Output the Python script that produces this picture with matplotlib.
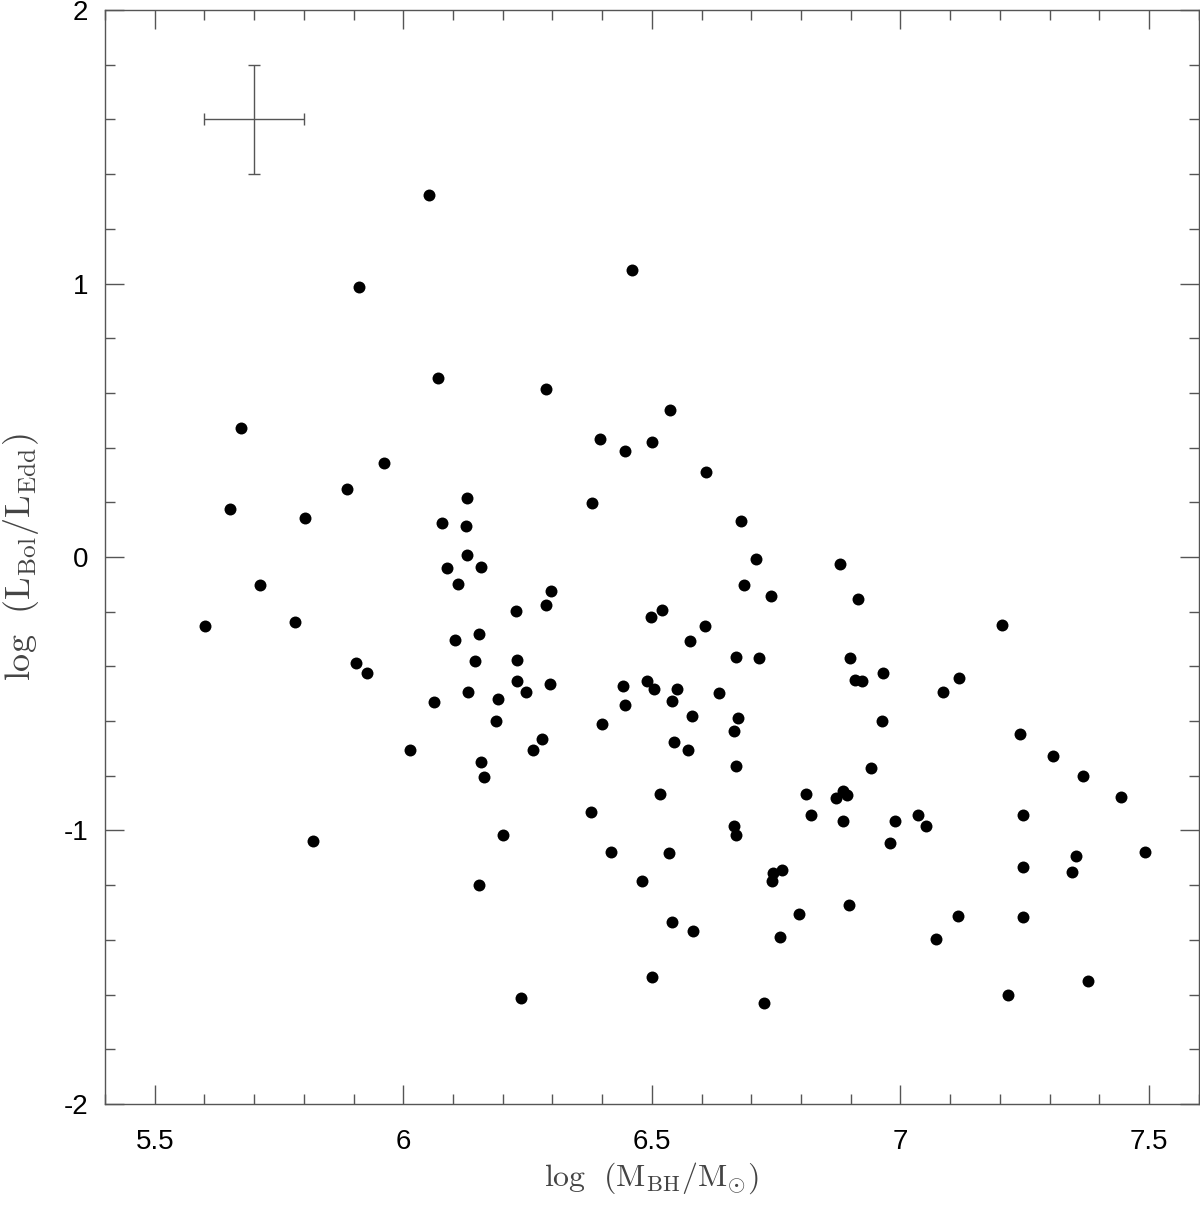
import matplotlib
matplotlib.use("Agg")
import matplotlib.pyplot as plt
from matplotlib.ticker import MultipleLocator, FixedLocator, FixedFormatter

plt.rcParams['font.family'] = ['Liberation Sans', 'DejaVu Sans']
plt.rcParams['mathtext.fontset'] = 'cm'
plt.rcParams['axes.unicode_minus'] = False

# log(M_BH/M_sun)
log_mbh = [
    5.601, 5.651, 5.673, 5.711, 5.783, 5.802, 5.818, 5.886, 5.904, 5.910,
    5.926, 5.962, 6.013, 6.051, 6.069, 6.286, 6.459, 6.537, 6.396, 6.445,
    6.501, 6.608, 6.680,
    6.129, 6.077, 6.127, 6.380, 6.129, 6.087, 6.157, 6.109, 6.298, 6.286,
    6.226, 6.521, 6.499, 6.577, 6.103, 6.153, 6.145, 6.228, 6.228, 6.296,
    6.131, 6.246, 6.441, 6.491, 6.505, 6.551, 6.541, 6.581, 6.061, 6.191,
    6.445, 6.187, 6.400, 6.278, 6.545, 6.573, 6.260,
    6.710, 6.879, 6.686, 6.740, 6.915, 7.205, 6.606, 6.670, 6.716, 6.899,
    6.965, 6.909, 6.923, 7.118, 7.086, 6.634, 6.674, 6.666, 6.963, 7.241,
    7.307,
    6.157, 6.163, 6.670, 6.517, 6.378, 6.200, 6.666, 6.670, 6.417, 6.535,
    6.762, 6.744, 6.742, 6.153, 6.481, 6.796, 6.541, 6.583, 6.758, 6.501,
    6.236, 6.726,
    6.941, 7.367, 6.809, 6.885, 6.871, 6.893, 7.444, 6.819, 6.885, 6.989,
    7.036, 7.052, 7.247, 6.979, 7.353, 7.247, 7.345, 7.492, 6.897, 7.116,
    7.247, 7.072, 7.377, 7.217,
]

# log(L_Bol/L_Edd)
log_edd = [
    -0.254, 0.177, 0.470, -0.104, -0.236, 0.141, -1.037, 0.250, -0.386, 0.989,
    -0.426, 0.342, -0.707, 1.325, 0.653, 0.616, 1.048, 0.539, 0.433, 0.389,
    0.419, 0.309, 0.130,
    0.214, 0.126, 0.112, 0.196, 0.009, -0.042, -0.035, -0.097, -0.126, -0.177,
    -0.196, -0.192, -0.218, -0.309, -0.302, -0.283, -0.382, -0.375, -0.452, -0.463,
    -0.492, -0.492, -0.473, -0.452, -0.484, -0.484, -0.525, -0.580, -0.532, -0.521,
    -0.543, -0.601, -0.612, -0.667, -0.675, -0.704, -0.704,
    -0.009, -0.027, -0.104, -0.141, -0.155, -0.247, -0.254, -0.364, -0.371, -0.371,
    -0.426, -0.448, -0.452, -0.444, -0.495, -0.499, -0.590, -0.638, -0.598, -0.649,
    -0.726,
    -0.748, -0.803, -0.766, -0.865, -0.931, -1.015, -0.982, -1.015, -1.080, -1.084,
    -1.146, -1.157, -1.183, -1.201, -1.186, -1.307, -1.333, -1.369, -1.388, -1.534,
    -1.614, -1.629,
    -0.770, -0.799, -0.868, -0.854, -0.883, -0.872, -0.876, -0.942, -0.967, -0.967,
    -0.942, -0.982, -0.945, -1.044, -1.095, -1.135, -1.150, -1.077, -1.271, -1.314,
    -1.318, -1.395, -1.552, -1.600,
]

# typical error bar
err_x, err_y = 5.70, 1.60
err_dx, err_dy = 0.1, 0.2

x_ticks = [5.5, 6, 6.5, 7, 7.5]
x_ticklabels = ['5.5', '6', '6.5', '7', '7.5']
y_ticks = [-2, -1, 0, 1, 2]
y_ticklabels = ['-2', '-1', '0', '1', '2']

fig = plt.figure(figsize=(12, 12.06), dpi=100)
ax = fig.add_axes([0.0875, 0.0846, 0.9115, 0.9071])

ax.plot(log_mbh, log_edd, 'o', color='black', markersize=8.6, markeredgewidth=0)
ax.errorbar([err_x], [err_y], xerr=[err_dx], yerr=[err_dy], fmt='none',
            ecolor='#555555', elinewidth=1.0, capsize=4, capthick=1.0)

ax.set_xlim(5.4, 7.6)
ax.set_ylim(-2, 2)

ax.xaxis.set_major_locator(FixedLocator(x_ticks))
ax.xaxis.set_major_formatter(FixedFormatter(x_ticklabels))
ax.xaxis.set_minor_locator(MultipleLocator(0.1))
ax.yaxis.set_major_locator(FixedLocator(y_ticks))
ax.yaxis.set_major_formatter(FixedFormatter(y_ticklabels))
ax.yaxis.set_minor_locator(MultipleLocator(0.2))

ax.tick_params(which='both', direction='in', top=True, right=True,
               color='#555555', width=1.0)
ax.tick_params(which='major', length=14, labelsize=20)
ax.tick_params(axis='x', which='major', pad=18)
ax.tick_params(axis='y', which='major', pad=12)
ax.tick_params(which='minor', length=7)
for s in ax.spines.values():
    s.set_color('#555555')
    s.set_linewidth(1.0)

ax.set_xlabel(r'$\mathrm{log\ \ (M_{BH}/M_{\odot})}$', fontsize=23, color='#444444', labelpad=4)
ax.set_ylabel(r'$\mathrm{log\ \ \left(L_{Bol}/L_{Edd}\right)}$', fontsize=26, color='#444444', labelpad=16)

fig.savefig('out.png', dpi=100)
